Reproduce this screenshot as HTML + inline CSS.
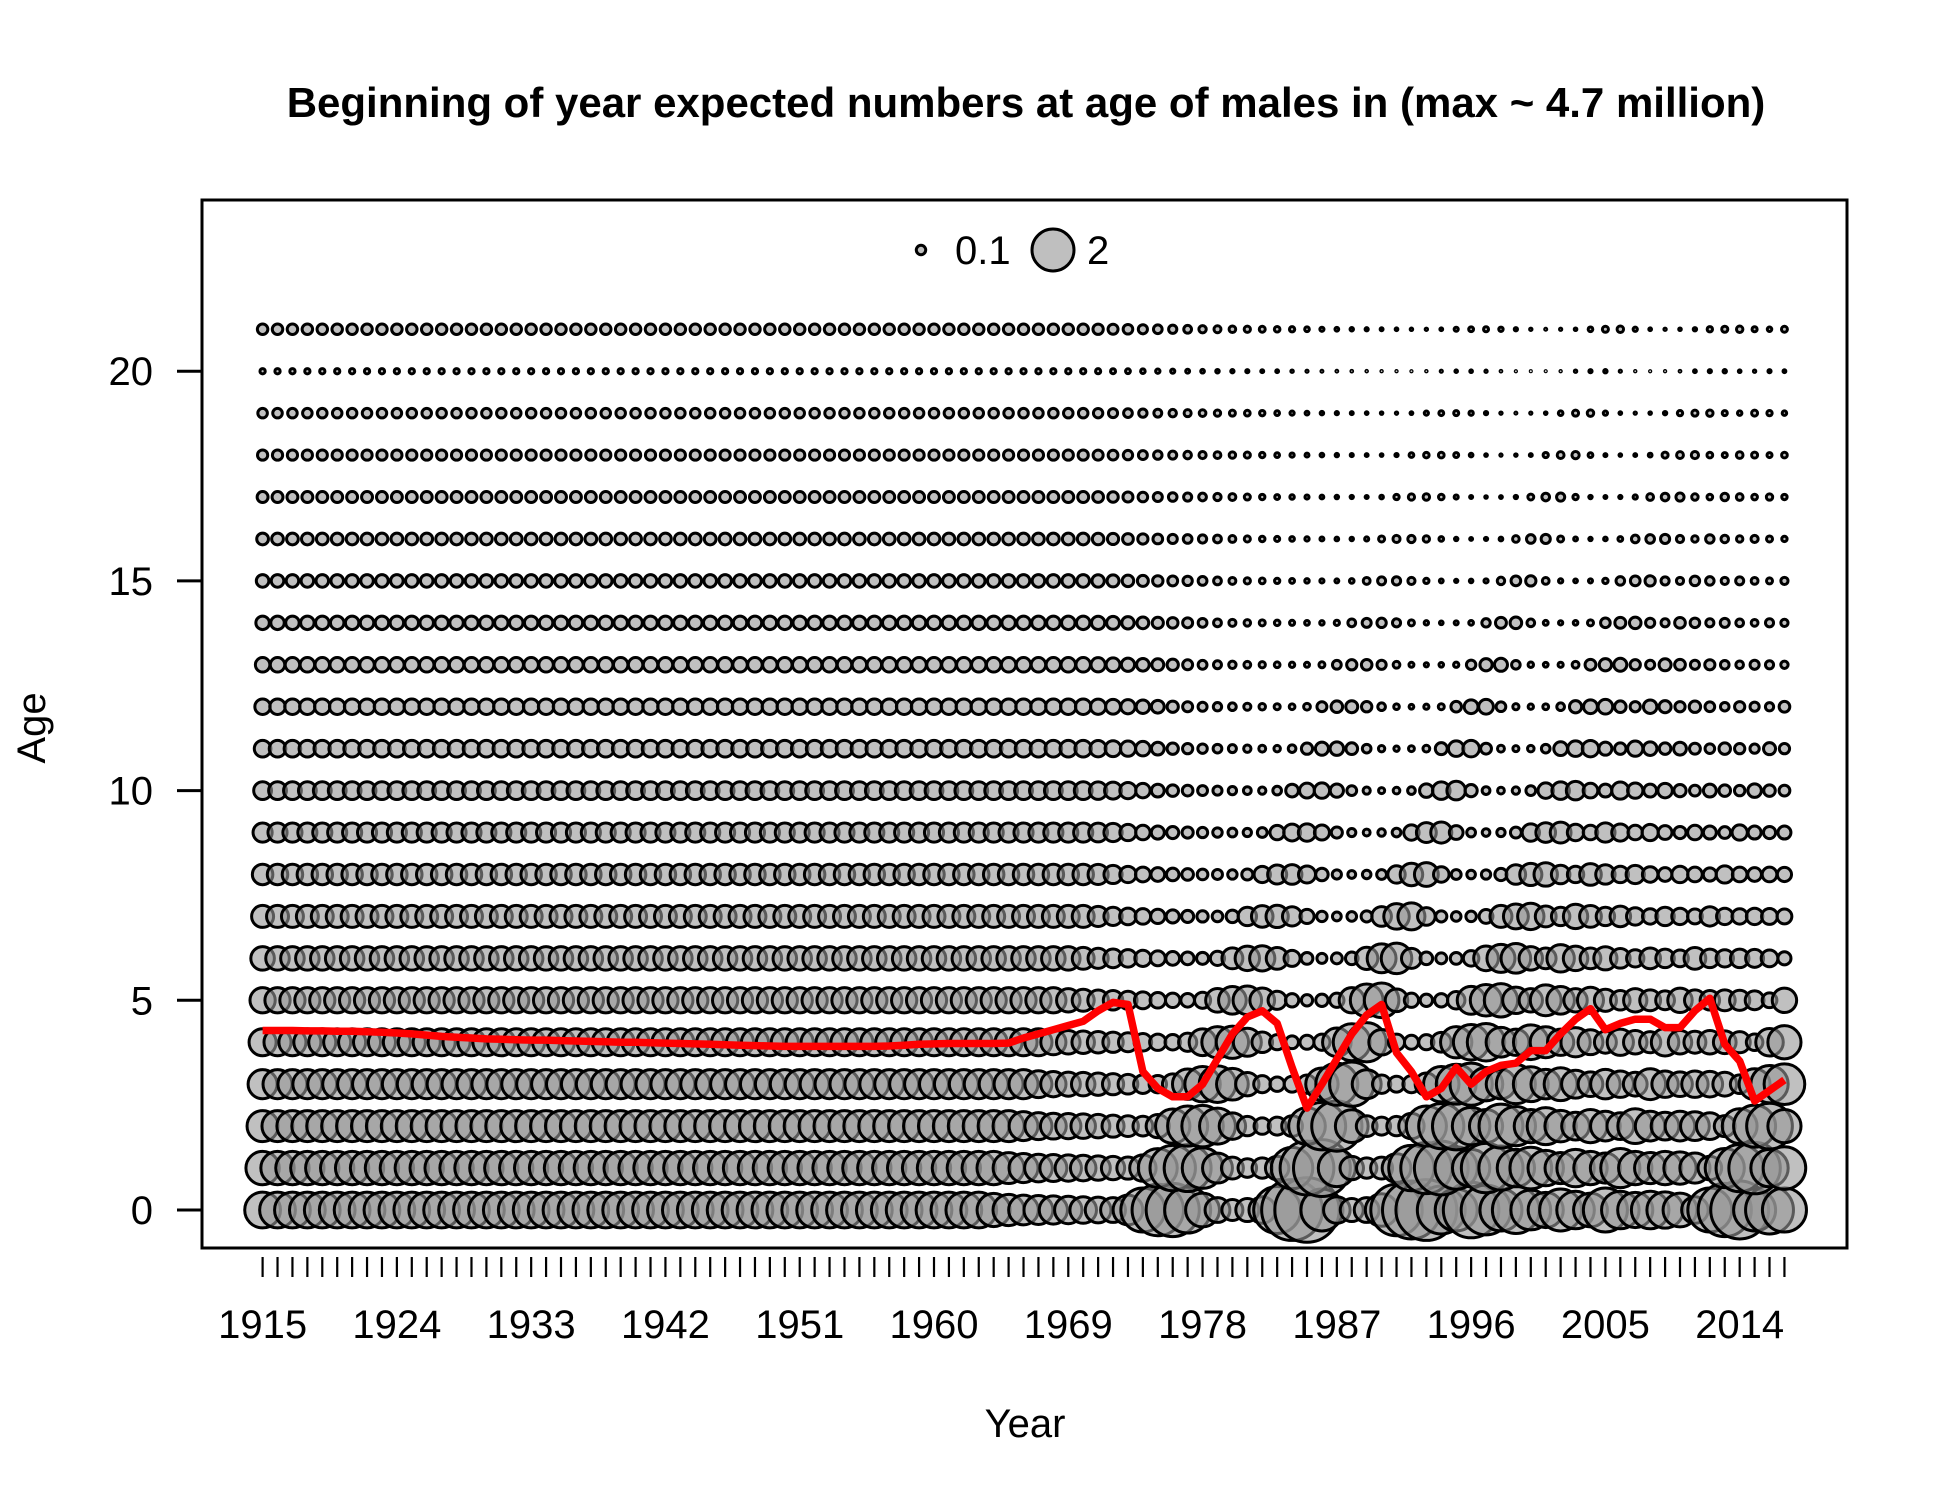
<!DOCTYPE html>
<html><head><meta charset="utf-8"><style>
html,body{margin:0;padding:0;background:#fff}
svg{display:block;font-family:"Liberation Sans",Arial,sans-serif}
</style></head><body>
<svg id="chart" width="1950" height="1500" viewBox="0 0 1950 1500">
<rect x="0" y="0" width="1950" height="1500" fill="#fff"/>
<text x="1026" y="117" text-anchor="middle" font-size="42" font-weight="bold">Beginning of year expected numbers at age of males in (max ~ 4.7 million)</text>
<g id="marks"></g>
<rect x="202" y="200" width="1645" height="1048" fill="none" stroke="#000" stroke-width="3"/>
<g id="axes"></g>
<text x="1025" y="1437" text-anchor="middle" font-size="40">Year</text>
<text transform="translate(45,728) rotate(-90)" text-anchor="middle" font-size="40">Age</text>
<g>
<circle cx="921" cy="250" r="4.7" fill="rgba(170,170,170,0.75)" stroke="#000" stroke-width="3"/>
<text x="955" y="264" font-size="40">0.1</text>
<circle cx="1053" cy="250" r="21" fill="rgba(170,170,170,0.75)" stroke="#000" stroke-width="3"/>
<text x="1087" y="264" font-size="40">2</text>
</g>
</svg>
<script>
const firstYear = 1915;
const lastYear = 2017;
const ages = [0,1,2,3,4,5,6,7,8,9,10,11,12,13,14,15,16,17,18,19,20,21];
const yTicks = [0,5,10,15,20];
const xTickLabels = [1915,1924,1933,1942,1951,1960,1969,1978,1987,1996,2005,2014];
// recruitment (age-0 numbers, millions) by year 1915..2017
const recruitment = [
1.45,1.45,1.45,1.45,1.45,1.45,1.45,1.45,1.45,1.45,
1.45,1.45,1.45,1.45,1.45,1.45,1.45,1.45,1.45,1.45,
1.45,1.45,1.45,1.45,1.45,1.45,1.45,1.45,1.45,1.45,
1.45,1.45,1.45,1.45,1.45,1.45,1.45,1.45,1.45,1.45,
1.45,1.45,1.45,1.45,1.45,1.45,1.45,1.45,1.45,
1.25,1.1,1.0,0.95,0.9,0.85,0.8,0.75,0.7,1.0,
2.2,3.0,3.2,2.4,1.3,0.7,0.5,0.6,0.8,2.5,
4.2,4.7,2.0,0.8,0.6,0.7,1.2,3.0,3.8,4.2,
2.6,2.0,3.5,2.8,2.0,2.5,1.8,1.4,2.0,1.6,
1.3,2.2,1.6,1.4,1.6,1.5,1.3,0.8,2.2,3.2,
3.8,2.0,2.6,2.2];
// annual survival by year 1915..2017
const survival = [
0.87,0.87,0.87,0.87,0.87,0.87,0.87,0.87,0.87,0.87,
0.87,0.87,0.87,0.87,0.87,0.87,0.87,0.87,0.87,0.87,
0.87,0.87,0.87,0.87,0.87,0.87,0.87,0.87,0.87,0.87,
0.87,0.87,0.87,0.87,0.87,0.87,0.87,0.87,0.87,0.87,
0.87,0.87,0.87,0.87,0.87,0.87,0.87,0.87,0.87,0.87,
0.87,0.87,0.87,0.87,0.87,
0.84,0.82,0.8,0.79,0.78,
0.78,0.78,0.78,0.78,0.78,0.78,0.78,0.78,0.78,0.78,
0.78,0.78,0.78,0.78,0.78,0.78,0.78,0.78,0.78,0.78,
0.79,0.79,0.79,0.79,0.79,0.79,0.79,0.79,0.79,0.79,
0.79,0.79,0.79,0.79,0.79,0.79,0.79,0.79,0.79,0.79,
0.79,0.79,0.79];
// display factor per age (age 20 small row, age 21 plus group)
const ageFactor = [1,1,1,1,1,1,1,1,1,1,1,1,1,1,1,1,1,1,1,1,0.35,1.6];
// mean age (red line) by year 1915..2017
const meanAge = [
4.28,4.28,4.28,4.27,4.27,4.26,4.26,4.25,4.24,4.22,
4.2,4.17,4.14,4.12,4.1,4.08,4.07,4.06,4.05,4.05,
4.04,4.03,4.02,4.01,4.0,4.0,3.99,3.98,3.97,3.96,
3.95,3.94,3.93,3.92,3.91,3.9,3.9,3.9,3.9,3.9,
3.9,3.9,3.91,3.93,3.95,3.96,3.97,3.97,3.97,3.97,
3.98,4.1,4.2,4.3,4.4,4.5,4.75,4.95,4.9,3.3,
2.9,2.7,2.7,3.0,3.6,4.2,4.6,4.75,4.45,3.4,
2.43,3.0,3.6,4.2,4.65,4.9,3.75,3.3,2.7,2.9,
3.4,3.0,3.3,3.45,3.5,3.8,3.8,4.2,4.55,4.8,
4.3,4.45,4.55,4.55,4.35,4.35,4.75,5.05,3.95,3.55,
2.6,2.85,3.1];

const X0 = 262.6, XPY = 14.92, Y0 = 1210, YPA = 41.94, R2 = 21;
const xs = yr => X0 + (yr - firstYear) * XPY;
const ys = a => Y0 - a * YPA;
const rs = v => R2 * Math.sqrt(Math.max(v, 0) / 2);
const NS = 'http://www.w3.org/2000/svg';
const marks = document.getElementById('marks');
const axes = document.getElementById('axes');
const nYears = lastYear - firstYear + 1;

const N = [];
for (let t = 0; t < nYears; t++) {
  N[t] = [];
  for (let a = 0; a < ages.length; a++) {
    let v;
    if (a === 0) v = recruitment[t];
    else if (t === 0) v = recruitment[0] * Math.pow(survival[0], a);
    else v = N[t-1][a-1] * survival[t-1];
    N[t][a] = v;
  }
}

for (let a = 0; a < ages.length; a++) {
  for (let t = 0; t < nYears; t++) {
    const c = document.createElementNS(NS, 'circle');
    c.setAttribute('cx', xs(firstYear + t));
    c.setAttribute('cy', ys(ages[a]));
    c.setAttribute('r', rs(N[t][a] * ageFactor[a]));
    c.setAttribute('fill', 'rgba(150,150,150,0.6)');
    c.setAttribute('stroke', '#000');
    c.setAttribute('stroke-width', '3');
    
    
    marks.appendChild(c);
  }
}

let d = '';
for (let t = 0; t < meanAge.length; t++) d += (t ? 'L' : 'M') + xs(firstYear + t).toFixed(1) + ' ' + ys(meanAge[t]).toFixed(1);
const line = document.createElementNS(NS, 'path');
line.setAttribute('d', d);
line.setAttribute('fill', 'none');
line.setAttribute('stroke', '#ff0000');
line.setAttribute('stroke-width', '7.5');
line.setAttribute('stroke-linejoin', 'round');


marks.appendChild(line);

for (const v of yTicks) {
  const l = document.createElementNS(NS, 'line');
  l.setAttribute('x1', 177); l.setAttribute('x2', 202);
  l.setAttribute('y1', ys(v)); l.setAttribute('y2', ys(v));
  l.setAttribute('stroke', '#000'); l.setAttribute('stroke-width', '3');
  
  
  axes.appendChild(l);
  const tx = document.createElementNS(NS, 'text');
  tx.setAttribute('x', 153); tx.setAttribute('y', ys(v) + 14);
  tx.setAttribute('text-anchor', 'end'); tx.setAttribute('font-size', '40');
  tx.textContent = v;
  
  
  axes.appendChild(tx);
}
for (let yr = firstYear; yr <= lastYear; yr++) {
  const l = document.createElementNS(NS, 'line');
  l.setAttribute('x1', xs(yr)); l.setAttribute('x2', xs(yr));
  l.setAttribute('y1', 1257); l.setAttribute('y2', 1277);
  l.setAttribute('stroke', '#000'); l.setAttribute('stroke-width', '2.2');
  
  
  axes.appendChild(l);
}
for (const yr of xTickLabels) {
  const tx = document.createElementNS(NS, 'text');
  tx.setAttribute('x', xs(yr)); tx.setAttribute('y', 1338);
  tx.setAttribute('text-anchor', 'middle'); tx.setAttribute('font-size', '40');
  tx.textContent = yr;
  
  
  axes.appendChild(tx);
}
</script>
</body></html>
